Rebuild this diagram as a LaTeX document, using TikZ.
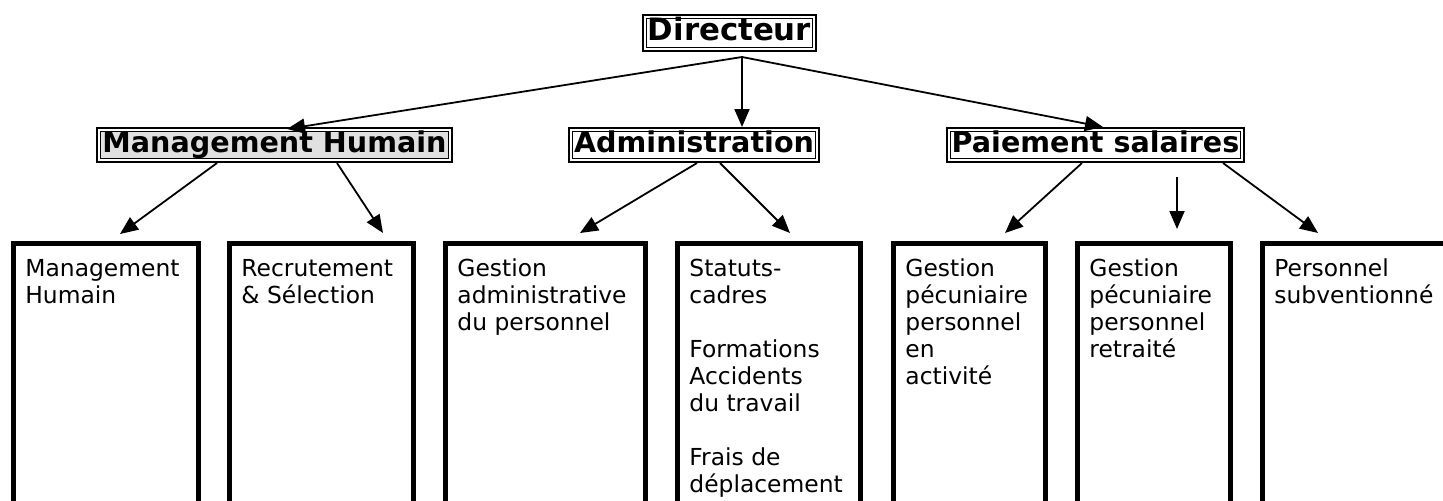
\documentclass[tikz,border=0pt]{standalone}
\usepackage{fontspec}
\setmainfont{DejaVu Sans}
\usetikzlibrary{arrows.meta}
\begin{document}
\begin{tikzpicture}[x=0.5pt,y=-0.5pt,
  head/.style={draw=black, double=white, double distance=1pt, line width=0.65pt,
    inner sep=0pt, text height=0.73em, text depth=0pt, font=\bfseries\fontsize{14.3pt}{16pt}\selectfont},
  unit/.style={draw=black, line width=2.5pt, anchor=north west, inner sep=0pt, minimum height=150pt},
  body/.style={anchor=base west, inner sep=0pt, font=\fontsize{11.7pt}{13.5pt}\selectfont},
  conn/.style={line width=0.9pt, -{Triangle[length=9pt,width=7.5pt]}}]
\path[use as bounding box] (0,0) rectangle (1443,500);
\clip (0,0) rectangle (1443,500);
% header boxes
\node[head, font=\bfseries\fontsize{15.4pt}{17pt}\selectfont, minimum width=84.75pt, minimum height=16.25pt] (dir) at (729.5,33) {Directeur};
\node[head, fill=black!12, minimum width=175.75pt, minimum height=15.25pt] (mh) at (274.5,145) {Management Humain};
\node[head, minimum width=123.25pt, minimum height=15.25pt] (adm) at (694,145) {Administration};
\node[head, minimum width=146.75pt, minimum height=15.25pt] (pay) at (1095.5,145) {Paiement salaires};
% unit boxes (open at the bottom: cut by the page)
\node[unit, minimum width=92.5pt] (b1) at (10.5,240.5) {};
\node[unit, minimum width=92pt] (b2) at (226.5,240.5) {};
\node[unit, minimum width=100pt] (b3) at (442.5,240.5) {};
\node[unit, minimum width=91.5pt] (b4) at (674.5,240.5) {};
\node[unit, minimum width=76pt] (b5) at (890.5,240.5) {};
\node[unit, minimum width=76.5pt] (b6) at (1074.5,240.5) {};
\node[unit, minimum width=94pt] (b7) at (1259.5,240.5) {};
% texts
\node[body] (t1) at (25,276) {\parbox[t]{170pt}{\raggedright Management\\Humain}};
\node[body] (t2) at (241,276) {\parbox[t]{170pt}{\raggedright Recrutement\\\&\ Sélection}};
\node[body] (t3) at (457,276) {\parbox[t]{170pt}{\raggedright Gestion\\administrative\\du personnel}};
\node[body] (t4) at (689,276) {\parbox[t]{170pt}{\raggedright Statuts-\\cadres\\[13.5pt]Formations\\Accidents\\du travail\\[13.5pt]Frais de\\déplacement}};
\node[body] (t5) at (905,276) {\parbox[t]{170pt}{\raggedright Gestion\\pécuniaire\\personnel\\en\\activité}};
\node[body] (t6) at (1089,276) {\parbox[t]{170pt}{\raggedright Gestion\\pécuniaire\\personnel\\retraité}};
\node[body] (t7) at (1274,276) {\parbox[t]{170pt}{\raggedright Personnel\\subventionné}};
% connector end points
\coordinate (d0) at (742,57);
\coordinate (mhin) at (287,129);
\coordinate (admin) at (742,127);
\coordinate (payin) at (1103,127);
\coordinate (mh1) at (217,163);
\coordinate (mh2) at (337,163);
\coordinate (ad1) at (697,163);
\coordinate (ad2) at (720,163);
\coordinate (py1) at (1082,163);
\coordinate (py3) at (1223,163);
\coordinate (py2) at (1177,177);
\coordinate (e1) at (120,234);
\coordinate (e2) at (383,233);
\coordinate (e3) at (580,233);
\coordinate (e4) at (790,233);
\coordinate (e5) at (1005,233);
\coordinate (e6) at (1177,229);
\coordinate (e7) at (1318,233);
\draw[conn] (d0) -- (mhin);
\draw[conn] (d0) -- (admin);
\draw[conn] (d0) -- (payin);
\draw[conn] (mh1) -- (e1);
\draw[conn] (mh2) -- (e2);
\draw[conn] (ad1) -- (e3);
\draw[conn] (ad2) -- (e4);
\draw[conn] (py1) -- (e5);
\draw[conn] (py2) -- (e6);
\draw[conn] (py3) -- (e7);
\end{tikzpicture}
\end{document}
